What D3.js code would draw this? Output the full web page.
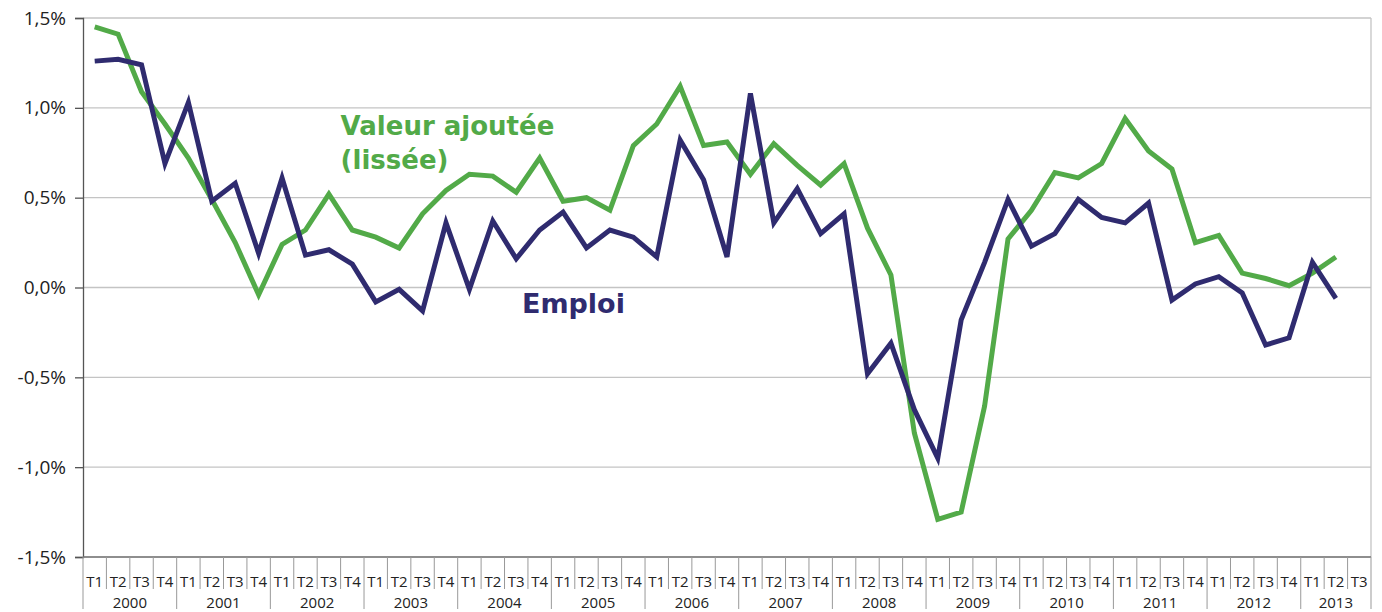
<!DOCTYPE html>
<html>
<head>
<meta charset="utf-8">
<script src="https://cdn.jsdelivr.net/npm/d3@7"></script>
<style>
  html, body { margin: 0; padding: 0; background: #fff; }
  svg { display: block; }
</style>
</head>
<body>
<div id="chart"></div>
<script>
  // years and quarters of the x axis
  const years = ["2000","2001","2002","2003","2004","2005","2006","2007","2008","2009","2010","2011","2012","2013"];
  const quarters = ["T1","T2","T3","T4"];

  // Emploi (quarterly change, %), 2000 T1 -> 2013 T2
  const emploi = [1.26,1.27,1.24,0.69, 1.03,0.48,0.58,0.19, 0.61,0.18,0.21,0.13,
    -0.08,-0.01,-0.13,0.36, -0.01,0.37,0.16,0.32, 0.42,0.22,0.32,0.28,
    0.17,0.82,0.60,0.17, 1.08,0.36,0.55,0.30, 0.41,-0.48,-0.31,-0.68,
    -0.95,-0.18,0.14,0.49, 0.23,0.30,0.49,0.39, 0.36,0.47,-0.07,0.02,
    0.06,-0.03,-0.32,-0.28, 0.14,-0.06];

  // Valeur ajoutée lissée (%), 2000 T1 -> 2013 T2
  const valeur = [1.45,1.41,1.09,0.91, 0.72,0.49,0.25,-0.04, 0.24,0.32,0.52,0.32,
    0.28,0.22,0.41,0.54, 0.63,0.62,0.53,0.72, 0.48,0.50,0.43,0.79,
    0.91,1.12,0.79,0.81, 0.63,0.80,0.68,0.57, 0.69,0.33,0.07,-0.81,
    -1.29,-1.25,-0.66,0.27, 0.43,0.64,0.61,0.69, 0.94,0.76,0.66,0.25,
    0.29,0.08,0.05,0.01, 0.08,0.17];

  const yTicks = [-1.5,-1.0,-0.5,0,0.5,1.0,1.5];

  // last year only goes to T3
  const cats = [];
  years.forEach(yr => quarters.forEach(q => {
    if (!(yr === "2013" && q === "T4")) cats.push(yr + "-" + q);
  }));

  const width = 1382, height = 612;
  const margin = {top: 18, right: 11, bottom: 55, left: 83};

  const svg = d3.select("#chart").append("svg")
    .attr("width", width)
    .attr("height", height);

  const x = d3.scaleBand()
    .domain(cats)
    .range([margin.left, width - margin.right]);

  const y = d3.scaleLinear()
    .domain([-1.5, 1.5])
    .range([height - margin.bottom, margin.top]);

  const fmt = v => d3.format(".1f")(v).replace(".", ",").replace("−", "-") + "%";

  // grid lines
  svg.append("g")
    .selectAll("line")
    .data(yTicks)
    .join("line")
      .attr("x1", margin.left)
      .attr("x2", width - margin.right)
      .attr("y1", d => y(d))
      .attr("y2", d => y(d))
      .attr("stroke", "#c4c4c4")
      .attr("stroke-width", 1.3);

  // right border
  svg.append("line")
    .attr("x1", width - margin.right).attr("x2", width - margin.right)
    .attr("y1", y(1.5)).attr("y2", y(-1.5))
    .attr("stroke", "#c4c4c4")
    .attr("stroke-width", 1.3);

  // y axis
  const yAxis = svg.append("g")
    .attr("transform", `translate(${margin.left},0)`)
    .call(d3.axisLeft(y).tickValues(yTicks).tickFormat(fmt).tickSize(8).tickPadding(9));
  yAxis.select(".domain").attr("stroke", "#555").attr("stroke-width", 1.3);
  yAxis.selectAll(".tick line").attr("stroke", "#555").attr("stroke-width", 1.3);
  yAxis.selectAll("text")
    .style("font-family", "'Open Sans', sans-serif")
    .style("font-size", "19px")
    .attr("fill", "#222");

  // x axis: quarter separators, labels, years
  const xAxis = svg.append("g");
  const bottom = y(-1.5);
  xAxis.append("line")
    .attr("x1", margin.left).attr("x2", width - margin.right)
    .attr("y1", bottom).attr("y2", bottom)
    .attr("stroke", "#777").attr("stroke-width", 1.3);

  xAxis.selectAll("line.sep")
    .data(cats.concat(["end"]))
    .join("line")
      .attr("class", "sep")
      .attr("x1", (d, i) => i < cats.length ? x(d) : x.range()[1])
      .attr("x2", (d, i) => i < cats.length ? x(d) : x.range()[1])
      .attr("y1", bottom)
      .attr("y2", d => (d === "end" || d.endsWith("T1")) ? height - 3 : bottom + 32)
      .attr("stroke", "#999")
      .attr("stroke-width", 1);

  xAxis.selectAll("text.q")
    .data(cats)
    .join("text")
      .attr("class", "q")
      .attr("x", d => x(d) + x.bandwidth() / 2)
      .attr("y", bottom + 30)
      .attr("text-anchor", "middle")
      .style("font-family", "'Open Sans', sans-serif")
      .style("font-size", "15px")
      .attr("fill", "#222")
      .text(d => d.split("-")[1]);

  xAxis.selectAll("text.yr")
    .data(years)
    .join("text")
      .attr("class", "yr")
      .attr("x", d => {
        const qs = cats.filter(c => c.startsWith(d));
        return (x(qs[0]) + x(qs[qs.length - 1]) + x.bandwidth()) / 2;
      })
      .attr("y", height - 4)
      .attr("text-anchor", "middle")
      .style("font-family", "'Open Sans', sans-serif")
      .style("font-size", "15px")
      .attr("fill", "#222")
      .text(d => d);

  // lines
  const line = d3.line()
    .x((d, i) => x(cats[i]) + x.bandwidth() / 2)
    .y(d => y(d));

  const green = "#52aa48", blue = "#2f2b6f";

  svg.append("path")
    .datum(valeur)
    .attr("d", line)
    .attr("fill", "none")
    .attr("stroke", green)
    .attr("stroke-width", 5)
    .attr("stroke-linejoin", "miter");

  svg.append("path")
    .datum(emploi)
    .attr("d", line)
    .attr("fill", "none")
    .attr("stroke", blue)
    .attr("stroke-width", 5)
    .attr("stroke-linejoin", "miter");

  // labels
  const lab = svg.append("g")
    .style("font-family", "'DejaVu Sans', sans-serif")
    .style("font-weight", "bold")
    .style("font-size", "26px");

  lab.append("text")
    .attr("x", x(cats[11]))
    .attr("y", y(0.85))
    .attr("fill", green)
    .text("Valeur ajoutée");
  lab.append("text")
    .attr("x", x(cats[11]))
    .attr("y", y(0.66))
    .attr("fill", green)
    .text("(lissée)");
  lab.append("text")
    .attr("x", x(cats[19]) - 6)
    .attr("y", y(-0.14))
    .attr("fill", blue)
    .attr("font-size", "27px")
    .text("Emploi");
</script>
</body>
</html>
